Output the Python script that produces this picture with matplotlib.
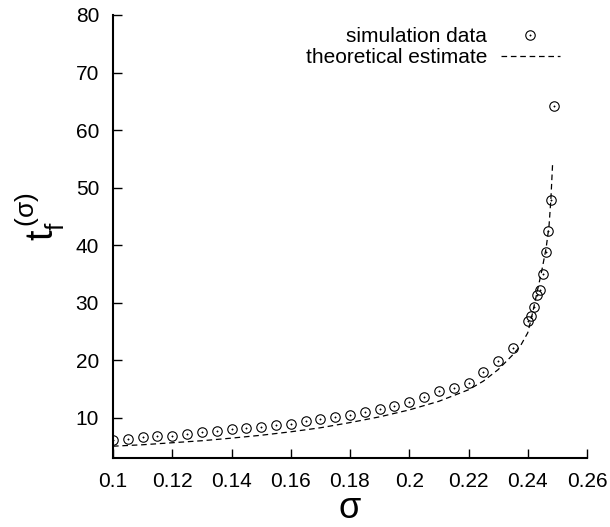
import matplotlib
matplotlib.use("Agg")
import matplotlib.pyplot as plt
from matplotlib.lines import Line2D

plt.rcParams['font.family'] = ['Liberation Sans', 'DejaVu Sans']
plt.rcParams['mathtext.fontset'] = 'custom'
plt.rcParams['mathtext.rm'] = 'Liberation Sans'
plt.rcParams['mathtext.it'] = 'Liberation Sans'
plt.rcParams['mathtext.bf'] = 'Liberation Sans:bold'

# simulation data
sim_sigma = [0.100, 0.105, 0.110, 0.115, 0.120, 0.125, 0.130, 0.135, 0.140, 0.145,
             0.150, 0.155, 0.160, 0.165, 0.170, 0.175, 0.180, 0.185, 0.190, 0.195,
             0.200, 0.205, 0.210, 0.215, 0.220, 0.225, 0.230, 0.235,
             0.240, 0.241, 0.242, 0.243, 0.244, 0.245, 0.246, 0.247, 0.248, 0.249]
sim_tf = [6.2, 6.35, 6.7, 6.8, 6.95, 7.3, 7.5, 7.8, 8.1, 8.3,
          8.5, 8.7, 8.9, 9.5, 9.9, 10.1, 10.5, 11.1, 11.5, 12.1,
          12.7, 13.7, 14.7, 15.2, 16.0, 18.0, 19.9, 22.1,
          26.8, 27.8, 29.2, 31.4, 32.3, 35.0, 38.8, 42.5, 47.9, 64.2]

# theoretical estimate
th_sigma = [0.100, 0.110, 0.120, 0.130, 0.140, 0.150, 0.160, 0.170, 0.180, 0.190,
            0.200, 0.210, 0.220, 0.225, 0.230, 0.235, 0.2375, 0.240, 0.2413, 0.2430,
            0.2447, 0.2462, 0.2472, 0.2478, 0.2484]
th_tf = [5.1, 5.35, 5.7, 6.05, 6.5, 7.0, 7.6, 8.3, 9.2, 10.2,
         11.4, 12.9, 14.9, 16.4, 18.4, 21.0, 22.5, 24.8, 27.5, 31.5,
         35.5, 39.5, 43.5, 47.9, 54.3]

xticks = [0.1, 0.12, 0.14, 0.16, 0.18, 0.2, 0.22, 0.24, 0.26]
xticklabels = ['0.1', '0.12', '0.14', '0.16', '0.18', '0.2', '0.22', '0.24', '0.26']
yticks = [10, 20, 30, 40, 50, 60, 70, 80]

fig = plt.figure(figsize=(6.10, 5.27), dpi=100)
ax = fig.add_axes([113/610, 1-458/527, 474/610, 443/527])

ax.plot(sim_sigma, sim_tf, linestyle='none', marker='o', markersize=6.8,
        markerfacecolor='none', markeredgecolor='black', markeredgewidth=0.8)
ax.plot(sim_sigma, sim_tf, linestyle='none', marker='o', markersize=1.0,
        markerfacecolor='black', markeredgecolor='black', markeredgewidth=0.3)
ax.plot(th_sigma, th_tf, color='black', linewidth=0.9, dashes=(4.5, 3))

ax.set_xlim(0.1, 0.26)
ax.set_ylim(3.05, 80)
ax.set_xticks(xticks)
ax.set_xticklabels(xticklabels)
ax.set_yticks(yticks)

for s in ['top', 'right']:
    ax.spines[s].set_visible(False)
for s in ['left', 'bottom']:
    ax.spines[s].set_linewidth(1.5)

ax.tick_params(direction='in', length=6.5, width=1.0, labelsize=15, pad=10)

ax.set_xlabel('σ', fontsize=26, va='baseline')
ax.xaxis.set_label_coords(0.5, -0.135)
ax.set_ylabel(r'$\mathregular{t_f^{\,(σ)}}$', fontsize=27)
ax.yaxis.set_label_coords(-0.097, 0.545)

h1 = Line2D([], [], linestyle='none', marker='o', markersize=6.8,
            markerfacecolor='none', markeredgecolor='black', markeredgewidth=0.8)
h1b = Line2D([], [], linestyle='none', marker='o', markersize=1.0,
             markerfacecolor='black', markeredgecolor='black', markeredgewidth=0.3)
h2 = Line2D([], [], color='black', linewidth=0.9, dashes=(4.5, 3))
leg = ax.legend([(h1, h1b), h2], ['simulation data', 'theoretical estimate'],
                loc='upper right', bbox_to_anchor=(0.943, 0.973), frameon=False,
                markerfirst=False, fontsize=15, handlelength=2.85,
                handletextpad=0.65, labelspacing=0.12, borderpad=0, borderaxespad=0,
                numpoints=1)

fig.savefig('out.png', dpi=100)
